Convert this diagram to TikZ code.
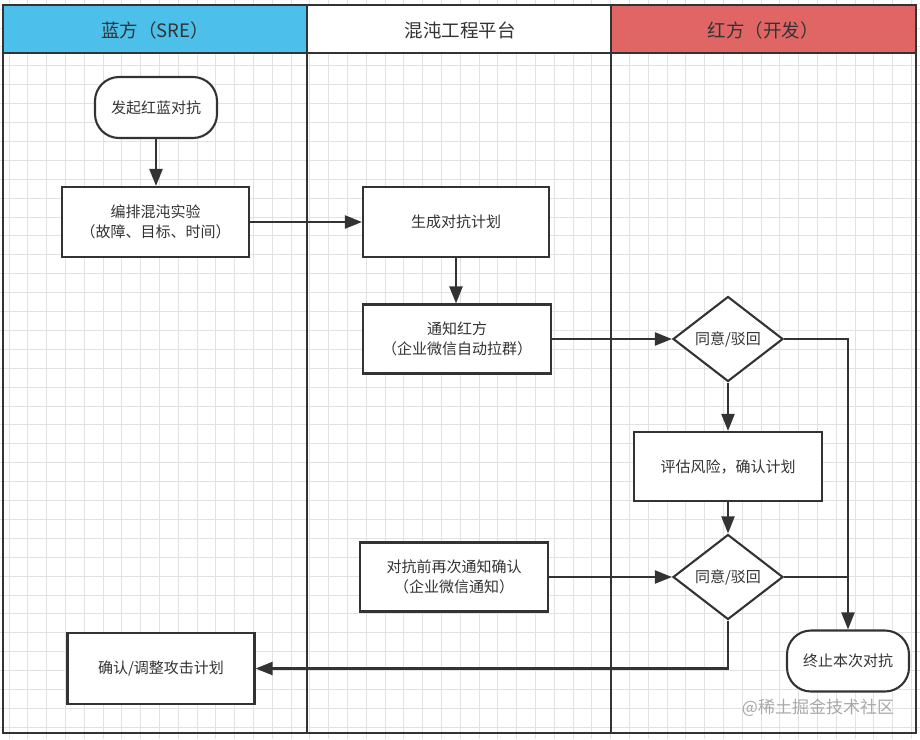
\documentclass[tikz,border=0pt]{standalone}
\usepackage{fontspec}
\newfontfamily\cjk{Noto Sans CJK SC}
\usetikzlibrary{shapes.geometric,arrows.meta}
\definecolor{bluehdr}{HTML}{4CBFEB}
\definecolor{redhdr}{HTML}{E06666}
\definecolor{ink}{HTML}{333333}
\definecolor{gridc}{HTML}{E2E2E2}
\definecolor{wmark}{HTML}{A8A8A8}
\tikzset{
  boxnode/.style={draw=ink, line width=2.1pt, fill=white, minimum width=187pt, minimum height=70pt,
    align=center, font=\cjk\fontsize{15}{19.5}\selectfont, text=ink, inner sep=2pt},
  termnode/.style={boxnode, rounded corners=24pt, minimum width=122pt, minimum height=61pt},
  decnode/.style={diamond, draw=ink, line width=2.1pt, fill=white, minimum width=110pt,
    minimum height=85pt, inner sep=0pt, font=\cjk\fontsize{15}{19.5}\selectfont, text=ink},
  conn/.style={draw=ink, line width=2.1pt},
  arr/.style={conn, -{Triangle[length=17pt,width=13pt]}},
  hdrtext/.style={font=\cjk\fontsize{18.5}{22}\selectfont, text=ink},
  lane/.style={draw=ink, line width=2.1pt},
  gridline/.style={draw=gridc, line width=0.8pt}
}
\begin{document}
\begin{tikzpicture}[x=1pt,y=-1pt]
\useasboundingbox (0,0) rectangle (920,739);
\fill[white] (0,0) rectangle (920,739);
% grid
\foreach \i in {0,...,48} \draw[gridline] (8.9+\i*18.8,0) -- (8.9+\i*18.8,739);
\foreach \j in {0,...,38} \draw[gridline] (0,9+\j*18.9) -- (920,9+\j*18.9);
% headers
\fill[bluehdr] (3,5) rectangle (307,53);
\fill[white] (307,5) rectangle (611,53);
\fill[redhdr] (611,5) rectangle (916,53);
\node[hdrtext] (h1) at (155,30) {蓝方（SRE）};
\node[hdrtext] (h2) at (460,30) {混沌工程平台};
\node[hdrtext] (h3) at (763,30) {红方（开发）};
% lanes
\draw[lane] (3,5) rectangle (916,733);
\draw[lane] (3,53) -- (916,53);
\draw[lane] (307,5) -- (307,733);
\draw[lane] (611,5) -- (611,733);
% nodes
\node[termnode] (start) at (156,107.5) {发起红蓝对抗};
\node[boxnode] (plan) at (155.5,222) {编排混沌实验\\（故障、目标、时间）};
\node[boxnode, minimum width=186pt] (gen) at (456,222) {生成对抗计划};
\node[boxnode, minimum width=188pt, minimum height=69pt] (notify) at (457,339) {通知红方\\（企业微信自动拉群）};
\node[decnode] (d1) at (728,339) {同意/驳回};
\node[boxnode, minimum width=188pt, minimum height=69pt] (eval) at (728,466.5) {评估风险，确认计划};
\node[boxnode, minimum width=188pt, minimum height=69pt] (pre) at (454,577) {对抗前再次通知确认\\（企业微信通知）};
\node[decnode] (d2) at (728,577) {同意/驳回};
\node[termnode] (stop) at (848,661) {终止本次对抗};
\node[boxnode, minimum height=71pt] (confirm) at (161,668.5) {确认/调整攻击计划};
% connectors
\draw[arr] (start.south) -- (start.south |- plan.north);
\draw[arr] (plan.east) -- (plan.east -| gen.west);
\draw[arr] (gen.south) -- (gen.south |- notify.north);
\draw[arr] (notify.east) -- (d1.west);
\draw[arr] (d1.south) -- (d1.south |- eval.north);
\draw[arr] (d1.east) -| (stop.north);
\draw[arr] (eval.south) -- (d2.north);
\draw[arr] (pre.east) -- (d2.west);
\draw[conn] (d2.east) -- (d2.east -| stop.north);
\draw[arr] (d2.south) |- (confirm.east);
% watermark
\node[font=\cjk\fontsize{17}{20}\selectfont, text=wmark] (wm) at (818,708) {@稀土掘金技术社区};
\end{tikzpicture}
\end{document}
